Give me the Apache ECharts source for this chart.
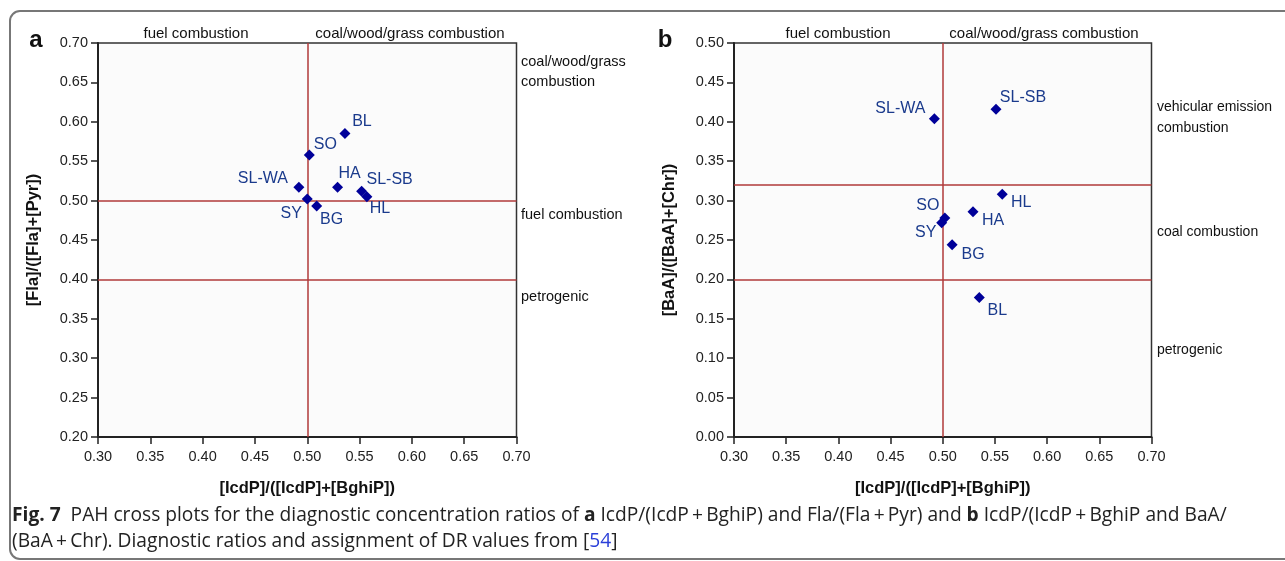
<!DOCTYPE html>
<html>
<head>
<meta charset="utf-8">
<script src="https://cdn.jsdelivr.net/npm/echarts@6/dist/echarts.min.js"></script>
<style>
html,body{margin:0;padding:0;background:#fff;}
#chart{width:1285px;height:561px;}
</style>
</head>
<body>
<div id="chart"></div>
<script>
// ---- data ----
const sitesA = ['BL', 'SO', 'SL-WA', 'SY', 'BG', 'HA', 'SL-SB', 'HL'];
const icdpA  = [0.536, 0.502, 0.492, 0.500, 0.509, 0.529, 0.552, 0.557];
const flaA   = [0.585, 0.558, 0.517, 0.502, 0.493, 0.517, 0.512, 0.505];

const sitesB = ['SL-WA', 'SL-SB', 'HL', 'HA', 'SO', 'SY', 'BG', 'BL'];
const icdpB  = [0.492, 0.551, 0.557, 0.529, 0.502, 0.499, 0.509, 0.535];
const baaB   = [0.404, 0.416, 0.308, 0.286, 0.278, 0.272, 0.244, 0.177];

const refXA = [0.50];
const refYA = [0.50, 0.40];
const refXB = [0.50];
const refYB = [0.322, 0.20];

const xRange = [0.30, 0.70];
const yRangeA = [0.20, 0.70];
const yRangeB = [0.00, 0.50];
const tickStep = 0.05;

const xTitle = '[IcdP]/([IcdP]+[BghiP])';
const yTitleA = '[Fla]/([Fla]+[Pyr])';
const yTitleB = '[BaA]/([BaA]+[Chr])';

// ---- label placement (style) ----
const labelOffA = {'BL':[17,-12],'SO':[16,-10],'SL-WA':[-36,-9],'SY':[-16,15],'BG':[15,13],'HA':[12,-14],'SL-SB':[28,-12],'HL':[13,12]};
const labelOffB = {'SL-WA':[-34,-10],'SL-SB':[27,-12],'HL':[19,8],'HA':[20,9],'SO':[-17,-12],'SY':[-16,10],'BG':[21,10],'BL':[18,13]};

const FONT = "'Liberation Sans', Arial, sans-serif";
const CAPFONT = "'Open Sans', sans-serif";
const REF = '#b03a3a';
const MARK = '#000099';
const LBL = '#1a3a8c';

function pts(names, xs, ys, offs) {
  return names.map((n, i) => ({
    name: n,
    value: [xs[i], ys[i]],
    label: { offset: offs[n] }
  }));
}

function xAxis(idx) {
  return {
    type: 'value', gridIndex: idx, min: xRange[0], max: xRange[1], interval: tickStep,
    name: xTitle, nameLocation: 'middle', nameGap: 43,
    nameTextStyle: { fontFamily: FONT, fontWeight: 'bold', fontSize: 16.5, color: '#111' },
    axisLine: { show: true, onZero: false, lineStyle: { color: '#222', width: 2 } },
    axisTick: { show: true, inside: false, length: 7, lineStyle: { color: '#222', width: 1.5 } },
    axisLabel: { margin: 12, fontFamily: FONT, fontSize: 14.5, color: '#222', formatter: v => v.toFixed(2) },
    splitLine: { show: false }
  };
}
function yAxis(idx, rng, title, gap) {
  return {
    type: 'value', gridIndex: idx, min: rng[0], max: rng[1], interval: tickStep,
    name: title, nameLocation: 'middle', nameGap: gap, nameRotate: 90,
    nameTextStyle: { fontFamily: FONT, fontWeight: 'bold', fontSize: 16.5, color: '#111' },
    axisLine: { show: true, onZero: false, lineStyle: { color: '#222', width: 2 } },
    axisTick: { show: true, inside: false, length: 7, lineStyle: { color: '#222', width: 1.5 } },
    axisLabel: { margin: 10, fontFamily: FONT, fontSize: 14.5, color: '#222', formatter: v => v.toFixed(2) },
    splitLine: { show: false }
  };
}
function scatter(idx, data, rx, ry) {
  return {
    type: 'scatter', xAxisIndex: idx, yAxisIndex: idx,
    symbol: 'diamond', symbolSize: 11,
    itemStyle: { color: MARK, opacity: 1 },
    label: { show: true, position: 'inside', formatter: p => p.name, color: LBL, fontFamily: FONT, fontSize: 16 },
    data: data,
    z: 5,
    markLine: {
      silent: true, symbol: ['none', 'none'], animation: false,
      label: { show: false },
      lineStyle: { color: REF, width: 1.5, type: 'solid', opacity: 1 },
      data: rx.map(v => ({ xAxis: v })).concat(ry.map(v => ({ yAxis: v })))
    }
  };
}

function txt(x, y, s, opts) {
  return {
    type: 'text', x: x, y: y,
    style: Object.assign({ text: s, fontFamily: FONT, fontSize: 14.5, fill: '#111', textVerticalAlign: 'middle' }, opts || {})
  };
}

const chart = echarts.init(document.getElementById('chart'), null, { renderer: 'canvas' });
const option = {
  animation: false,
  backgroundColor: '#fff',
  grid: [
    { left: 98, top: 43, width: 418.5, height: 394, show: true, backgroundColor: '#fbfbfb', borderColor: '#333', borderWidth: 1.5 },
    { left: 734, top: 43, width: 417.5, height: 394, show: true, backgroundColor: '#fbfbfb', borderColor: '#333', borderWidth: 1.5 }
  ],
  xAxis: [xAxis(0), xAxis(1)],
  yAxis: [yAxis(0, yRangeA, yTitleA, 56), yAxis(1, yRangeB, yTitleB, 56)],
  series: [
    scatter(0, pts(sitesA, icdpA, flaA, labelOffA), refXA, refYA),
    scatter(1, pts(sitesB, icdpB, baaB, labelOffB), refXB, refYB)
  ],
  graphic: [
    { type: 'rect', shape: { x: 10, y: 11, width: 1320, height: 548, r: 10 }, style: { fill: 'none', stroke: '#777', lineWidth: 2 }, z: -1 },
    txt(36, 40, 'a', { fontSize: 24, fontWeight: 'bold', textAlign: 'center' }),
    txt(665, 40, 'b', { fontSize: 24, fontWeight: 'bold', textAlign: 'center' }),
    txt(196, 34, 'fuel combustion', { fontSize: 15, textAlign: 'center' }),
    txt(410, 34, 'coal/wood/grass combustion', { fontSize: 15, textAlign: 'center' }),
    txt(521, 62, 'coal/wood/grass'),
    txt(521, 82, 'combustion'),
    txt(521, 215, 'fuel combustion'),
    txt(521, 297, 'petrogenic'),
    txt(838, 34, 'fuel combustion', { fontSize: 15, textAlign: 'center' }),
    txt(1044, 34, 'coal/wood/grass combustion', { fontSize: 15, textAlign: 'center' }),
    txt(1157, 107, 'vehicular emission', { fontSize: 14 }),
    txt(1157, 128, 'combustion', { fontSize: 14 }),
    txt(1157, 232, 'coal combustion', { fontSize: 14 }),
    txt(1157, 350, 'petrogenic', { fontSize: 14 }),
    {
      type: 'text', x: 12, y: 516,
      style: {
        text: '{b|Fig. 7}  PAH cross plots for the diagnostic concentration ratios of {b|a} IcdP/(IcdP\u2009+\u2009BghiP) and Fla/(Fla\u2009+\u2009Pyr) and {b|b} IcdP/(IcdP\u2009+\u2009BghiP and BaA/',
        fontFamily: CAPFONT, fontSize: 19.2, fill: '#222', textVerticalAlign: 'middle',
        rich: { b: { fontWeight: 'bold', fontFamily: CAPFONT, fontSize: 19.2, fill: '#222' } }
      }
    },
    {
      type: 'text', x: 12, y: 542,
      style: {
        text: '(BaA\u2009+\u2009Chr). Diagnostic ratios and assignment of DR values from [{l|54}]',
        fontFamily: CAPFONT, fontSize: 19.2, fill: '#222', textVerticalAlign: 'middle',
        rich: { l: { fill: '#2a3fd8', fontFamily: CAPFONT, fontSize: 19.2 } }
      }
    }
  ]
};
chart.setOption(option);
</script>
</body>
</html>
